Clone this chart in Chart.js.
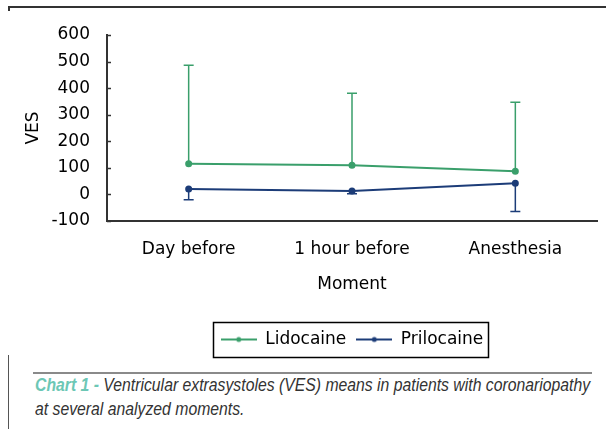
<!DOCTYPE html>
<html>
<head>
<meta charset="utf-8">
<script src="https://cdn.jsdelivr.net/npm/chart.js@4.4.1/dist/chart.umd.min.js"></script>
<style>
  html, body { margin: 0; padding: 0; background: #fff; }
  body { width: 606px; height: 429px; position: relative; overflow: hidden; }
  #chart { position: absolute; left: 0; top: 0; }
  .topline { position: absolute; left: 8px; top: 6px; width: 598px; height: 0; border-top: 2px solid #333; }
  .topline::before { content: ''; position: absolute; left: 0; top: 0; width: 2px; height: 3px; background: #333; }
  .leftline { position: absolute; left: 8px; top: 355px; width: 1px; height: 74px; background: #555; }
  .sep { position: absolute; left: 33px; top: 372px; width: 559px; height: 2px; background: #8a8a8a; }
  .caption { position: absolute; left: 35px; top: 373px; white-space: nowrap;
    font-family: 'Liberation Sans', Arial, sans-serif;
    font-style: italic; font-size: 19px; line-height: 24px; color: #333;
    transform: scaleX(0.83); transform-origin: 0 0; }
  .caption b { color: #6cc7b5; }
</style>
</head>
<body>
<div class="topline"></div>
<canvas id="chart" width="606" height="362"></canvas>
<div class="leftline"></div>
<div class="sep"></div>
<div class="caption"><b>Chart 1 -</b> Ventricular extrasystoles (VES) means in patients with coronariopathy<br>at several analyzed moments.</div>
<script>
// --- Data ---
const moments = ['Day before', '1 hour before', 'Anesthesia'];
const lidocaineMean = [115, 110, 87];
const lidocaineUpper = [486, 381, 347];
const prilocaineMean = [20, 13, 42];
const prilocaineLower = [-20, 3, -64];
const yTicks = { min: -100, max: 600, step: 100 };

const GREEN = '#3a9f6b';
const BLUE = '#1c3c78';

// little "line with dot" image used as legend marker
function legendMarker(color) {
    const c = document.createElement('canvas');
    c.width = 36; c.height = 8;
    const g = c.getContext('2d');
    g.strokeStyle = color; g.lineWidth = 2;
    g.beginPath(); g.moveTo(0, 4); g.lineTo(36, 4); g.stroke();
    g.fillStyle = color;
    g.beginPath(); g.arc(18, 4, 2.5, 0, Math.PI * 2); g.fill();
    return c;
}

// error bars: Lidocaine upward, Prilocaine downward
const errorBars = {
    id: 'errorBars',
    beforeDatasetsDraw(chart) {
        const ctx = chart.ctx;
        const x = chart.scales.x, y = chart.scales.y;
        chart.data.datasets.forEach((ds, i) => {
            if (!ds.errorTo) return;
            ctx.save();
            ctx.strokeStyle = ds.borderColor;
            ctx.lineWidth = 1.5;
            ds.data.forEach((v, j) => {
                const px = x.getPixelForValue(j);
                const p0 = y.getPixelForValue(v);
                const p1 = y.getPixelForValue(ds.errorTo[j]);
                ctx.beginPath();
                ctx.moveTo(px, p0); ctx.lineTo(px, p1);
                ctx.moveTo(px - 5, p1); ctx.lineTo(px + 5, p1);
                ctx.stroke();
            });
            ctx.restore();
        });
    }
};

// inward tick marks on the y axis + border round the legend
const decorations = {
    id: 'decorations',
    afterDraw(chart) {
        const ctx = chart.ctx;
        const y = chart.scales.y;
        const left = chart.chartArea.left;
        ctx.save();
        ctx.strokeStyle = '#333';
        ctx.lineWidth = 1.5;
        y.ticks.forEach(t => {
            const py = Math.round(y.getPixelForValue(t.value)) + 0.5;
            ctx.beginPath(); ctx.moveTo(left, py); ctx.lineTo(left + 4, py); ctx.stroke();
        });
        const boxes = chart.legend.legendHitBoxes;
        if (boxes && boxes.length) {
            const l = Math.min(...boxes.map(b => b.left)) - 8;
            const r = Math.max(...boxes.map(b => b.left + b.width)) + 4;
            const tp = Math.min(...boxes.map(b => b.top)) - 9;
            const bt = Math.max(...boxes.map(b => b.top + b.height)) + 9;
            ctx.strokeStyle = '#000';
            ctx.lineWidth = 1.5;
            ctx.strokeRect(Math.round(l) + 0.5, Math.round(tp) + 0.5, Math.round(r - l), Math.round(bt - tp));
        }
        ctx.restore();
    }
};

Chart.defaults.font.family = "'DejaVu Sans', sans-serif";
Chart.defaults.font.size = 17;
Chart.defaults.color = '#000';

new Chart(document.getElementById('chart'), {
    type: 'line',
    data: {
        labels: moments,
        datasets: [
            {
                label: 'Lidocaine',
                data: lidocaineMean,
                errorTo: lidocaineUpper,
                borderColor: GREEN,
                backgroundColor: GREEN,
                borderWidth: 2,
                pointRadius: 2.5,
                tension: 0
            },
            {
                label: 'Prilocaine',
                data: prilocaineMean,
                errorTo: prilocaineLower,
                borderColor: BLUE,
                backgroundColor: BLUE,
                borderWidth: 2,
                pointRadius: 2.5,
                tension: 0
            }
        ]
    },
    options: {
        responsive: false,
        animation: false,
        layout: { padding: { left: 0, right: 9, top: 35, bottom: 4 } },
        scales: {
            x: {
                offset: true,
                grid: { display: false, drawTicks: false },
                border: { display: true, color: '#333', width: 2 },
                ticks: { padding: 18 },
                title: { display: true, text: 'Moment', padding: { top: 4, bottom: 26 } },
                afterFit(scale) { scale.height = 100; }
            },
            y: {
                min: yTicks.min,
                max: yTicks.max,
                grid: { display: false, drawTicks: false },
                border: { display: true, color: '#333', width: 2 },
                ticks: { stepSize: yTicks.step, padding: 17 },
                title: { display: true, text: 'VES', padding: { top: 23, bottom: 0 } },
                afterFit(scale) { scale.width = 107; }
            }
        },
        plugins: {
            tooltip: { enabled: false },
            legend: {
                position: 'bottom',
                fullSize: false,
                labels: {
                    usePointStyle: true,
                    pointStyleWidth: 36,
                    boxHeight: 8,
                    padding: 10,
                    generateLabels(chart) {
                        const items = Chart.defaults.plugins.legend.labels.generateLabels(chart);
                        return items.map(it => Object.assign(it, {
                            pointStyle: legendMarker(chart.data.datasets[it.datasetIndex].borderColor)
                        }));
                    }
                }
            }
        }
    },
    plugins: [errorBars, decorations]
});
</script>
</body>
</html>
